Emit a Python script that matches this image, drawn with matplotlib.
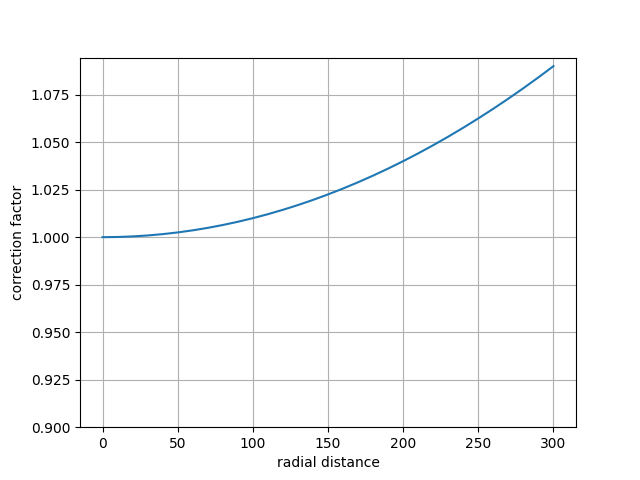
import matplotlib
matplotlib.use("Agg")
import matplotlib.pyplot as plt

# values
radial = [0, 10, 20, 30, 40, 50, 60, 70, 80, 90, 100, 110, 120, 130, 140, 150,
          160, 170, 180, 190, 200, 210, 220, 230, 240, 250, 260, 270, 280, 290, 300]
factor = [1.0, 1.0001, 1.0004, 1.0009, 1.0016, 1.0025, 1.0036, 1.0049, 1.0064,
          1.0081, 1.01, 1.0121, 1.0144, 1.0169, 1.0196, 1.0225, 1.0256, 1.0289,
          1.0324, 1.0361, 1.04, 1.0441, 1.0484, 1.0529, 1.0576, 1.0625, 1.0676,
          1.0729, 1.0784, 1.0841, 1.09]

fig, ax = plt.subplots(figsize=(6.4, 4.8), dpi=100)
ax.plot(radial, factor)
ax.set_ylim(bottom=0.9)
ax.set_xlabel("radial distance")
ax.set_ylabel("correction factor")
ax.grid(True)
fig.savefig("out.png")
